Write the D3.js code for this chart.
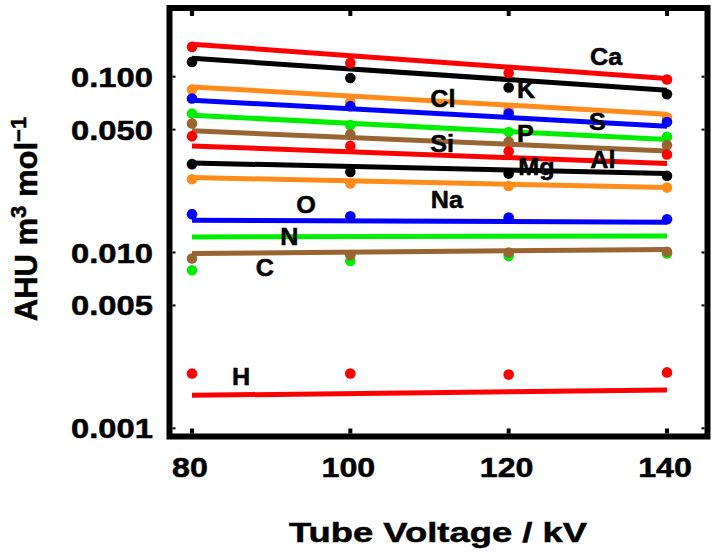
<!DOCTYPE html>
<html><head><meta charset="utf-8">
<script src="https://cdn.jsdelivr.net/npm/d3@7"></script>
<style>
body{margin:0;background:#fff}
svg{display:block}
text{font-family:"Liberation Sans",Arial,Helvetica,sans-serif;font-weight:bold;fill:#000;stroke:#000;stroke-width:0.5px}
</style>
</head><body>
<svg id="chart" width="714" height="559"></svg>
<script>
// ---- data ----
const voltages = [80, 100, 120, 140];
const elements = ["Ca","K","Cl","S","P","Si","Al","Mg","Na","O","N","C","H"];
const colorCycle = ["#ff0000","#000000","#ff8c1a","#0000ff","#00ee00","#996633"];
// measured points (AHU m^3 mol^-1) at 80,100,120,140 kV
const dotsCa = [0.1477, 0.1198, 0.1051, 0.0964];
const dotsK  = [0.1214, 0.0984, 0.0868, 0.0795];
const dotsCl = [0.0846, 0.0719, 0.0645, 0.0586];
const dotsS  = [0.0752, 0.0680, 0.0618, 0.0553];
const dotsP  = [0.0618, 0.0530, 0.0485, 0.0455];
const dotsSi = [0.0542, 0.0471, 0.0426, 0.0408];
const dotsAl = [0.0459, 0.0404, 0.0377, 0.0361];
const dotsMg = [0.0318, 0.0287, 0.0281, 0.0273];
const dotsNa = [0.0261, 0.0247, 0.0239, 0.0234];
const dotsO  = [0.01652, 0.01609, 0.01581, 0.01547];
const dotsN  = [0.00793, 0.00896, 0.00956, 0.00987];
const dotsC  = [0.00924, 0.00965, 0.0100, 0.0101];
const dotsH  = [0.00205, 0.00205, 0.00202, 0.00208];
const measured = [dotsCa,dotsK,dotsCl,dotsS,dotsP,dotsSi,dotsAl,dotsMg,dotsNa,dotsO,dotsN,dotsC,dotsH];
// fitted line values at 80 kV and 140 kV
const fitAt80  = [0.153, 0.1274, 0.0875, 0.0735, 0.0604, 0.0492, 0.0404, 0.0323, 0.0267, 0.01527, 0.01227, 0.00987, 0.00154];
const fitAt140 = [0.0977, 0.0838, 0.0612, 0.0523, 0.0439, 0.0378, 0.0321, 0.0281, 0.0234, 0.01487, 0.01243, 0.0104, 0.00165];
// label anchors in data units
const labelKV  = [132.3, 122.2, 111.7, 131.2, 122.1, 111.6, 131.9, 123.5, 112.2, 94.4, 92.3, 89.2, 86.2];
const labelAHU = [0.1163, 0.0755, 0.0671, 0.0496, 0.0424, 0.0372, 0.0302, 0.0275, 0.01786, 0.01673, 0.0110, 0.00733, 0.00176];
const xTickValues = [80, 100, 120, 140];
const yTickValues = [0.001, 0.005, 0.01, 0.05, 0.1];
const yTickLabels = ["0.001", "0.005", "0.010", "0.050", "0.100"];

// ---- layout ----
const svg = d3.select("#chart");
const frame = {left:169.5, right:707.5, top:8, bottom:436.5};
const x = d3.scaleLinear().domain([80, 140]).range([192, 667]);
const y = d3.scaleLog().domain([0.001, 0.1]).range([428.3, 76.7]);

// fitted lines
const line = d3.line().x(d => x(d[0])).y(d => y(d[1]));
svg.append("g").selectAll("path").data(elements).join("path")
  .attr("d", (e, i) => line([[80, fitAt80[i]], [140, fitAt140[i]]]))
  .attr("fill", "none")
  .attr("stroke", (e, i) => colorCycle[i % colorCycle.length])
  .attr("stroke-width", 5);

// measured points
const dotG = svg.append("g");
elements.forEach((e, i) => {
  dotG.selectAll(null).data(measured[i]).join("circle")
    .attr("cx", (d, j) => x(voltages[j]))
    .attr("cy", d => y(d))
    .attr("r", 5.3)
    .attr("fill", colorCycle[i % colorCycle.length]);
});

// element labels
svg.append("g").selectAll("text").data(elements).join("text")
  .attr("transform", (e, i) => `translate(${x(labelKV[i])},${y(labelAHU[i])}) scale(1.05,1)`)
  .attr("text-anchor", "middle")
  .attr("font-size", 24)
  .text(d => d);

// frame
svg.append("rect")
  .attr("x", frame.left).attr("y", frame.top)
  .attr("width", frame.right - frame.left).attr("height", frame.bottom - frame.top)
  .attr("fill", "none").attr("stroke", "#000").attr("stroke-width", 6);

// ticks (inward)
const tg = svg.append("g").attr("stroke", "#000");
xTickValues.forEach(v => {
  tg.append("line").attr("x1", x(v)).attr("x2", x(v)).attr("y1", frame.top + 3).attr("y2", frame.top + 8).attr("stroke-width", 4);
  tg.append("line").attr("x1", x(v)).attr("x2", x(v)).attr("y1", frame.bottom - 3).attr("y2", frame.bottom - 8).attr("stroke-width", 4);
});
yTickValues.forEach(v => {
  tg.append("line").attr("x1", frame.left + 3).attr("x2", frame.left + 6).attr("y1", y(v)).attr("y2", y(v)).attr("stroke-width", 2);
  tg.append("line").attr("x1", frame.right - 3).attr("x2", frame.right - 6).attr("y1", y(v)).attr("y2", y(v)).attr("stroke-width", 2);
});

// tick labels
svg.append("g").selectAll("text").data(xTickValues).join("text")
  .attr("transform", d => `translate(${x(d) - 2},476.5) scale(1.15,1)`)
  .attr("text-anchor", "middle").attr("font-size", 28)
  .text(d => d);
svg.append("g").selectAll("text").data(yTickValues).join("text")
  .attr("transform", d => `translate(153,${y(d) + 10}) scale(1.17,1)`)
  .attr("text-anchor", "end").attr("font-size", 28)
  .text((d, i) => yTickLabels[i]);

// axis titles
svg.append("text")
  .attr("transform", "translate(438,541.7) scale(1.3,1)")
  .attr("text-anchor", "middle").attr("font-size", 28)
  .text("Tube Voltage / kV");

const yt = svg.append("text")
  .attr("transform", "translate(37,219) rotate(-90)")
  .attr("text-anchor", "middle").attr("font-size", 31);
yt.append("tspan").text("AHU m");
yt.append("tspan").attr("font-size", 22).attr("dy", -11).text("3");
yt.append("tspan").attr("dy", 11).text(" mol");
yt.append("tspan").attr("font-size", 22).attr("dy", -11).text("\u22121");
</script>
</body></html>
